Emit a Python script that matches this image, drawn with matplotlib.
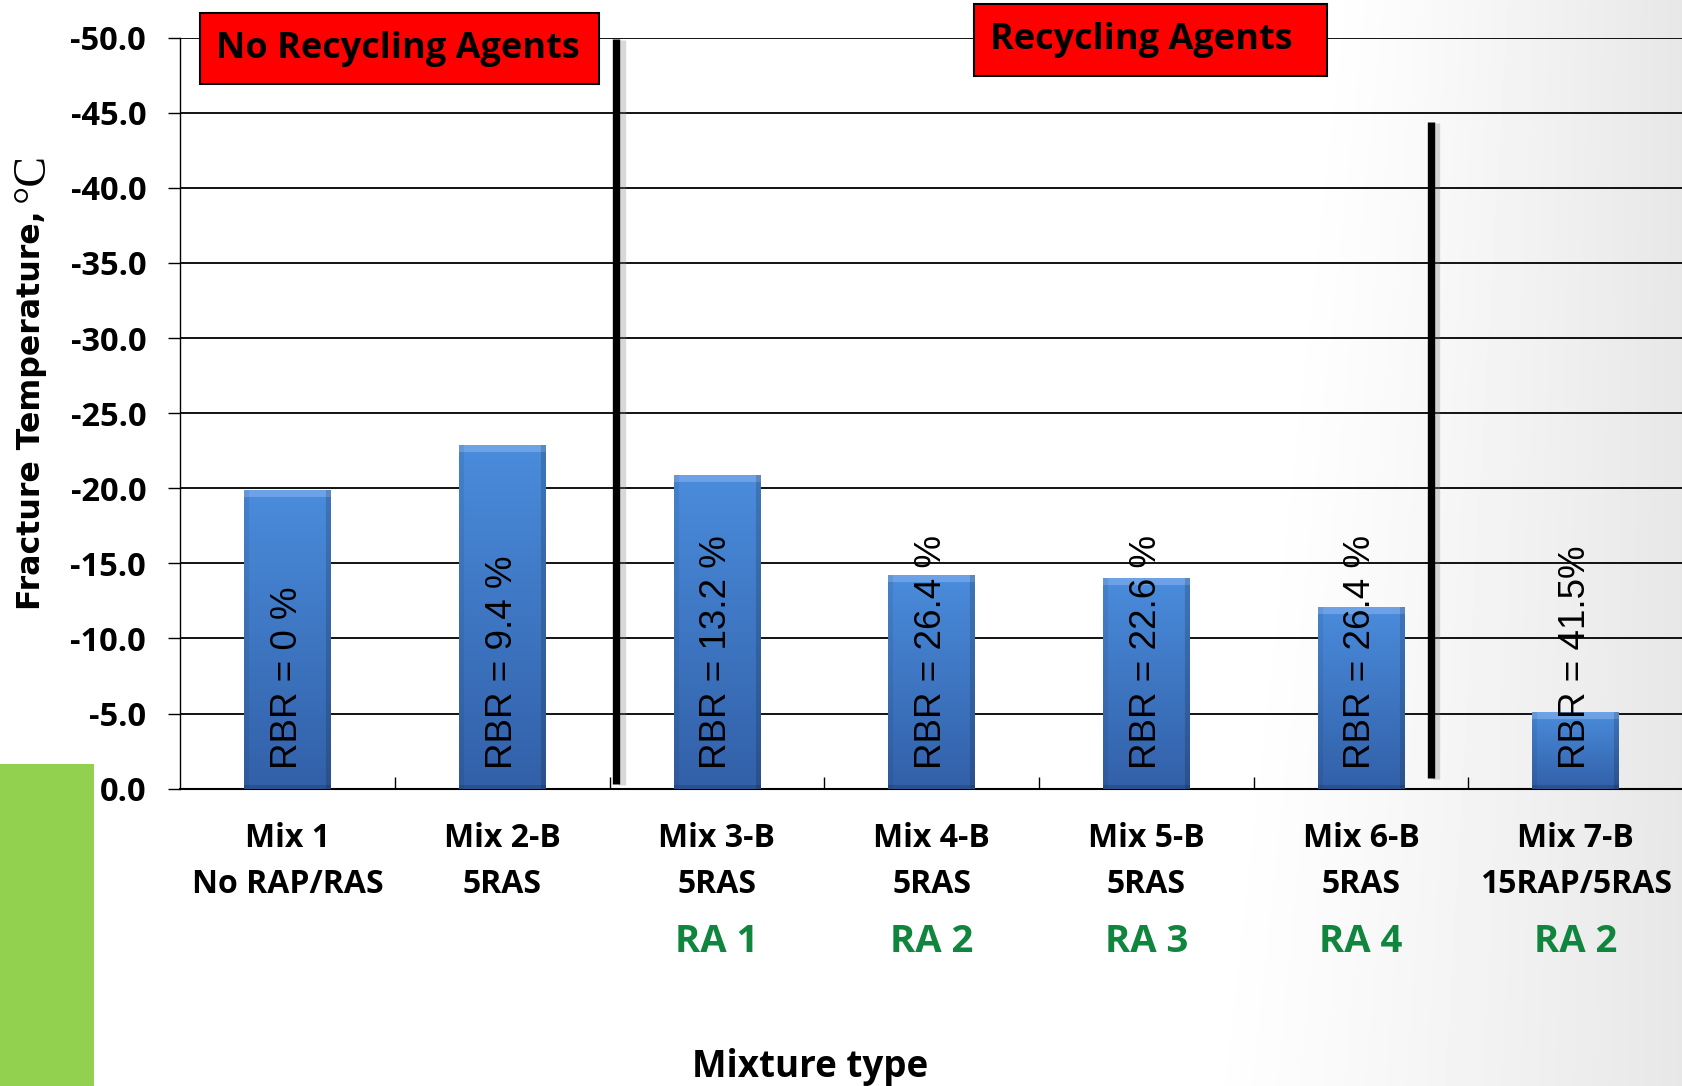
import numpy as np
import matplotlib
matplotlib.use("Agg")
import matplotlib.pyplot as plt
import matplotlib.patheffects as pe
from matplotlib.patches import Rectangle
from matplotlib.ticker import FormatStrFormatter
from matplotlib.transforms import blended_transform_factory

# 数据
mixes = ["Mix 1", "Mix 2-B", "Mix 3-B", "Mix 4-B", "Mix 5-B", "Mix 6-B", "Mix 7-B"]
mix_contents = ["No RAP/RAS", "5RAS", "5RAS", "5RAS", "5RAS", "5RAS", "15RAP/5RAS"]
agents = ["", "", "RA 1", "RA 2", "RA 3", "RA 4", "RA 2"]
fracture_temp = [-19.9, -22.9, -20.9, -14.2, -14.0, -12.1, -5.1]
rbr_labels = ["RBR = 0 %", "RBR = 9.4 %", "RBR = 13.2 %", "RBR = 26.4 %",
              "RBR = 22.6 %", "RBR = 26.4 %", "RBR = 41.5%"]
y_ticks = [-50, -45, -40, -35, -30, -25, -20, -15, -10, -5, 0]

# 分隔线 (类别坐标, 温度范围)
divider_x = [1.53, 5.325]
divider_top = [-49.9, -44.4]
divider_bottom = [-0.3, -0.7]

W, H = 1683, 1086
BOLD = dict(family='Open Sans', weight='bold')


def fx(px):
    return px / W


def fy(py):
    return 1 - py / H


def bar_image(hpx, wpx):
    """带斜面效果的蓝色渐变"""
    rows, cols = max(int(hpx), 4), max(int(wpx), 4)
    v = np.linspace(0, 1, rows)[:, None, None]
    top = np.array([74, 140, 220]) / 255
    bot = np.array([50, 96, 168]) / 255
    img = np.repeat(top + (bot - top) * v, cols, axis=1)
    img[:7] = img[:7] * 0.7 + 0.3 * np.array([0.75, 0.85, 1.0])
    img[-4:] *= 0.85
    img[:, :5] *= 0.93
    img[:, -5:] *= 0.84
    return np.clip(img, 0, 1)


fig = plt.figure(figsize=(W / 100, H / 100), dpi=100)

# 背景渐变
bg = fig.add_axes([0, 0, 1, 1], zorder=-10)
bg.axis('off')
xx = np.arange(W)[None, :]
yy = np.arange(H)[:, None]
x0 = 1320 - 130 * yy / H
t = np.clip((xx - x0) / (W - x0), 0, 1)
shade = 1 - 0.095 * t ** 1.2
bg.imshow(shade, cmap='gray', vmin=0, vmax=1, aspect='auto', extent=[0, 1, 0, 1])
bg.set_xlim(0, 1)
bg.set_ylim(0, 1)

# 左下绿色块
fig.add_artist(Rectangle((0, 0), fx(93.6), fy(764), transform=fig.transFigure,
                         facecolor='#92D050', edgecolor='none', zorder=-5))

ax = fig.add_axes([fx(180.3), fy(788.6), 1 - fx(180.3), (788.6 - 37.6) / H])
ax.patch.set_alpha(0)

x = np.arange(len(mixes))
bars = ax.bar(x, fracture_temp, width=0.405, color='#3f7cc6', zorder=3)
px_per_unit = (788.6 - 37.6) / 50
for p in bars:
    bx, bw, bh = p.get_x(), p.get_width(), p.get_height()
    img = bar_image(abs(bh) * px_per_unit, bw * 214.7)
    ax.imshow(img, extent=[bx, bx + bw, 0, bh], origin='upper', aspect='auto',
              zorder=3.1, interpolation='bilinear', clip_path=p)

for i, lab in enumerate(rbr_labels):
    ax.text(x[i], -1.3, lab, rotation=90, ha='center', va='bottom',
            fontsize=26.5, family='Liberation Sans', color='black', zorder=5)

for dx, dt, db in zip(divider_x, divider_top, divider_bottom):
    ax.plot([dx, dx], [db, dt], color='black', lw=5.3, solid_capstyle='butt', zorder=4,
            path_effects=[pe.SimpleLineShadow(offset=(4, -1), shadow_color='gray', alpha=0.3),
                          pe.Normal()])

ax.set_xlim(-0.5, 6.5)
ax.set_ylim(0, -50)
ax.set_yticks(y_ticks)
ax.yaxis.set_major_formatter(FormatStrFormatter('%.1f'))
ax.yaxis.grid(True, color='black', lw=1.3)
ax.set_axisbelow(True)
ax.tick_params(axis='y', direction='out', length=8.6, width=1, pad=16, labelsize=23.5)
for lab in ax.get_yticklabels():
    lab.set_fontfamily('Open Sans')
    lab.set_fontweight('bold')
ax.set_xticks(x[:-1] + 0.5)
ax.set_xticklabels([])
ax.tick_params(axis='x', direction='in', length=8.6, width=1)
for s in ['top', 'right']:
    ax.spines[s].set_visible(False)
ax.spines['left'].set_linewidth(1.0)
ax.spines['bottom'].set_linewidth(1.5)

# x 轴分类标签
trans = blended_transform_factory(ax.transData, fig.transFigure)
for i in range(len(mixes)):
    ax.text(x[i], fy(847.3), mixes[i], transform=trans, ha='center', va='baseline',
            fontsize=23, color='black', **BOLD)
    ax.text(x[i], fy(893.3), mix_contents[i], transform=trans, ha='center', va='baseline',
            fontsize=23, color='black', **BOLD)
    if agents[i]:
        ax.text(x[i], fy(952.5), agents[i], transform=trans, ha='center', va='baseline',
                fontsize=27.5, color='#0F853E', **BOLD)

fig.text(fx(810), fy(1076.7), "Mixture type", ha='center', va='baseline',
         fontsize=26.5, color='black', **BOLD)

# y 轴标题: 文字 + 衬线体 °C
ylab = fig.text(fx(32), fy(610), "Fracture Temperature,", rotation=90,
                ha='center', va='bottom', fontsize=22.8, fontweight='bold', family='DejaVu Sans')
fig.canvas.draw()
ext = ylab.get_window_extent()
fig.text(fx(33), (ext.y1 + 8) / H, "°C", rotation=90, ha='center', va='bottom',
         fontsize=33, family='Liberation Serif')

# 红色标注框
boxes = [((199.6, 12.8, 599.5, 84.0), (398, 49), "No Recycling Agents"),
         ((973.5, 3.5, 1327.0, 76.0), (1141, 40), "Recycling Agents")]
for (l, tp, r, b), (cx, cy), txt in boxes:
    fig.add_artist(Rectangle((fx(l), fy(b)), (r - l) / W, (b - tp) / H,
                             transform=fig.transFigure, facecolor='#FF0000',
                             edgecolor='black', lw=1.5, zorder=5))
    fig.text(fx(cx), fy(cy), txt, ha='center', va='center', fontsize=26,
             color='black', zorder=6, **BOLD)

fig.savefig("out.png", dpi=100)
